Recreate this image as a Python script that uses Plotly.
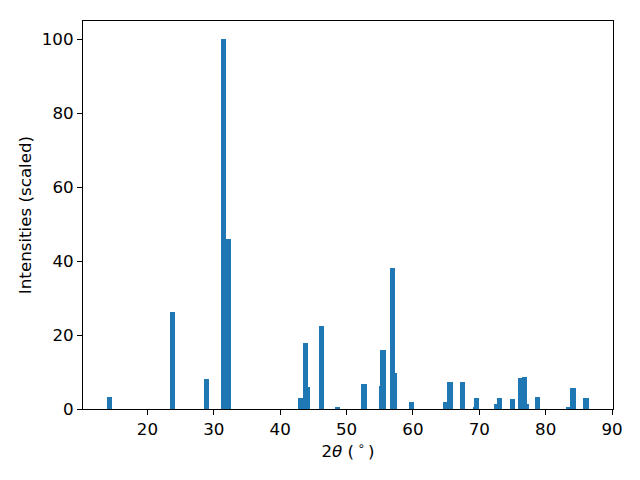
import plotly.graph_objects as go

two_theta = [14.33, 23.78, 28.88, 31.5, 32.25, 43.1, 43.85, 44.05, 46.2, 48.6,
             52.55, 52.7, 55.3, 55.5, 56.95, 57.2, 59.8, 64.95, 65.6, 67.45,
             69.4, 69.6, 72.6, 73.0, 75.0, 76.3, 76.8, 77.1, 78.8, 83.5, 84.1, 86.1]
intensity = [3.3, 26.3, 8.1, 100, 46, 3.0, 17.9, 6.0, 22.5, 0.5,
             6.8, 6.8, 6.2, 16.0, 38.2, 9.8, 1.9, 1.9, 7.3, 7.3,
             0.3, 3.0, 1.4, 3.0, 2.7, 8.4, 8.7, 1.4, 3.25, 0.5, 5.7, 3.0]

FONT = dict(family="DejaVu Sans", size=16.7, color="black")

fig = go.Figure(go.Bar(x=two_theta, y=intensity, width=0.8,
                       marker=dict(color="#1f77b4", line=dict(width=0))))

axis_common = dict(showline=True, linecolor="black", linewidth=1.1, mirror=True,
                   ticks="outside", ticklen=5, tickwidth=1.1, tickcolor="black",
                   showgrid=False, zeroline=False, automargin=False,
                   tickfont=FONT)

fig.update_layout(
    width=640, height=480,
    margin=dict(l=75, r=35, t=13, b=79),
    paper_bgcolor="white", plot_bgcolor="white",
    showlegend=False, bargap=0,
    font=FONT,
    xaxis=dict(range=[10.3, 90.15], tickvals=[20, 30, 40, 50, 60, 70, 80, 90],
               title=dict(text="2<i>θ</i> (\u2009<sup>∘</sup>\u2009)", standoff=5, font=FONT),
               **axis_common),
    yaxis=dict(range=[0, 105], tickvals=[0, 20, 40, 60, 80, 100],
               title=dict(text="Intensities (scaled)", standoff=5, font=FONT),
               **axis_common),
)

fig.write_html("out.html")
